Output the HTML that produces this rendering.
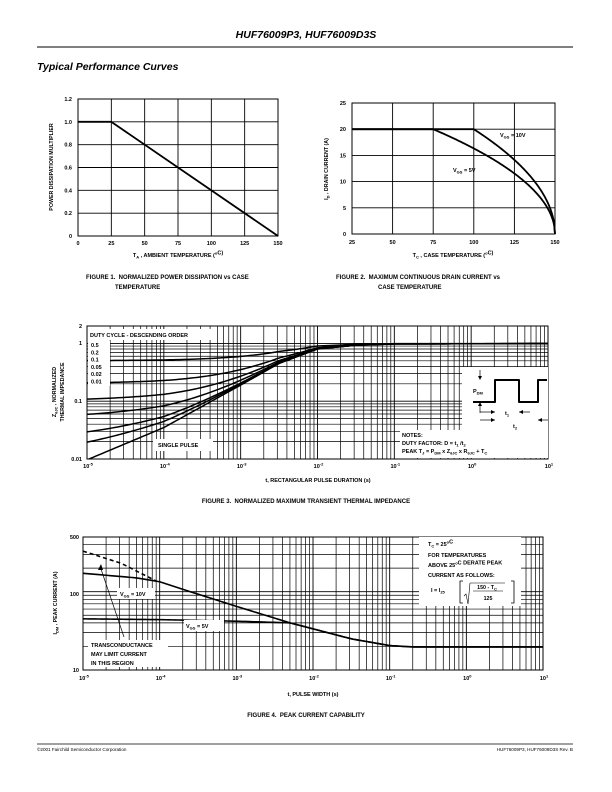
<!DOCTYPE html>
<html><head><meta charset="utf-8"><style>
body{margin:0;background:#fff}
svg{display:block;font-family:"Liberation Sans",Arial,sans-serif;font-weight:bold}
</style></head><body>
<svg id="s" width="612" height="792" viewBox="0 0 612 792" xmlns="http://www.w3.org/2000/svg"></svg>
<script>
var o='';
function L(x1,y1,x2,y2,w,extra){o+='<line x1="'+x1+'" y1="'+y1+'" x2="'+x2+'" y2="'+y2+'" stroke="#000" stroke-width="'+(w||0.8)+'" '+(extra||'')+'/>';}
function T(x,y,s,sz,a,extra){o+='<text x="'+x+'" y="'+y+'" font-size="'+(sz||5.5)+'" text-anchor="'+(a||'middle')+'" '+(extra||'')+'>'+s+'</text>';}
function R(x,y,w,h){o+='<rect x="'+x+'" y="'+y+'" width="'+w+'" height="'+h+'" fill="#fff"/>';}
function P(pts,w,extra){o+='<polyline fill="none" stroke="#000" stroke-width="'+w+'" stroke-linejoin="round" points="'+pts.map(function(p){return p[0].toFixed(2)+','+p[1].toFixed(2)}).join(' ')+'" '+(extra||'')+'/>';}
var sub=function(s){return '<tspan font-size="4" dy="1.5">'+s+'</tspan><tspan dy="-1.5"> </tspan>';};
var sup=function(s){return '<tspan font-size="4" dy="-2.5">'+s+'</tspan><tspan dy="2.5"></tspan>';};
// header
T(306,38,'HUF76009P3, HUF76009D3S',10.5,'middle','font-style="italic"');
L(37,47,573,47,1);
T(37,70,'Typical Performance Curves',10.5,'start','font-style="italic"');
// Fig1
(function(){var x0=78,x1=278,y0=99,y1=236;
for(var i=0;i<=6;i++){var x=x0+i*(x1-x0)/6;L(x,y0,x,y1,0.9);T(x,245,[0,25,50,75,100,125,150][i],5.5);}
for(var j=0;j<=6;j++){var y=y1-j*(y1-y0)/6;L(x0,y,x1,y,0.9);T(x0-6,y+2,['0','0.2','0.4','0.6','0.8','1.0','1.2'][j],5.5,'end');}
o+='<rect x="'+x0+'" y="'+y0+'" width="'+(x1-x0)+'" height="'+(y1-y0)+'" fill="none" stroke="#000" stroke-width="1"/>';
P([[x0,y1-5*(y1-y0)/6],[x0+(x1-x0)/6,y1-5*(y1-y0)/6],[x1,y1]],1.8);
T(178,257,'T'+sub('A')+', AMBIENT TEMPERATURE ('+sup('o')+'C)',5.5);
T(53,167,'POWER DISSIPATION MULTIPLIER',5.3,'middle','transform="rotate(-90 53 167)"');
T(86,279,'FIGURE 1.&#160;&#160;NORMALIZED POWER DISSIPATION vs CASE',6,'start');
T(115,289,'TEMPERATURE',6,'start');
})();
// Fig2
(function(){var x0=352,x1=555,y0=103,y1=234;
function X(t){return x0+(t-25)/125*(x1-x0);}function Y(v){return y1-v/25*(y1-y0);}
for(var i=0;i<=5;i++){var x=x0+i*(x1-x0)/5;L(x,y0,x,y1,0.9);T(x,244,25+25*i,5.5);}
for(var j=0;j<=5;j++){var y=y1-j*(y1-y0)/5;L(x0,y,x1,y,0.9);T(x0-6,y+2,5*j,5.5,'end');}
o+='<rect x="'+x0+'" y="'+y0+'" width="'+(x1-x0)+'" height="'+(y1-y0)+'" fill="none" stroke="#000" stroke-width="1"/>';
var a=[[X(25),Y(20)]],b=[[X(25),Y(20)]];
for(var t=75;t<=150;t+=0.5){b.push([X(t),Y(t<75?20:20*Math.sqrt((150-t)/75))]);}
for(var t=100;t<=150;t+=0.5){a.push([X(t),Y(20*Math.sqrt((150-t)/50))]);}
P(a,1.8);P(b,1.8);
T(500,137,'V'+sub('GS')+' = 10V',5.5,'start');
T(453,172,'V'+sub('GS')+' = 5V',5.5,'start');
T(453,257,'T'+sub('C')+', CASE TEMPERATURE ('+sup('o')+'C)',5.5);
T(328,169,'I'+sub('D')+', DRAIN CURRENT (A)',5.3,'middle','transform="rotate(-90 328 169)"');
T(336,279,'FIGURE 2.&#160;&#160;MAXIMUM CONTINUOUS DRAIN CURRENT vs',6,'start');
T(378,289,'CASE TEMPERATURE',6,'start');
})();
function lerpLog(pts,t){var lt=Math.log10(t);if(lt<=pts[0][0])return pts[0][1];for(var i=1;i<pts.length;i++){if(lt<=pts[i][0]){var f=(lt-pts[i-1][0])/(pts[i][0]-pts[i-1][0]);return Math.pow(10,Math.log10(pts[i-1][1])+f*(Math.log10(pts[i][1])-Math.log10(pts[i-1][1])));}}return pts[pts.length-1][1];}
// Fig3
(function(){var x0=87,x1=548,y0=326,y1=459;
function X(t){return x0+(Math.log10(t)+5)*76.83;}function Y(v){return 343.4-Math.log10(v)*57.8;}
o+='<defs><clipPath id="c3"><rect x="'+x0+'" y="'+y0+'" width="'+(x1-x0)+'" height="'+(y1-y0)+'"/></clipPath><clipPath id="c4"><rect x="83" y="537" width="460" height="133"/></clipPath></defs>';
for(var d=-5;d<1;d++)for(var m=1;m<10;m++){var x=X(m*Math.pow(10,d));L(x,y0,x,y1,m==1?0.9:0.7);}
for(var d=-2;d<1;d++)for(var m=1;m<10;m++){var v=m*Math.pow(10,d);if(v>2)break;var y=Y(v);L(x0,y,x1,y,m==1?0.9:0.7);}
o+='<rect x="'+x0+'" y="'+y0+'" width="'+(x1-x0)+'" height="'+(y1-y0)+'" fill="none" stroke="#000" stroke-width="1"/>';
var zs=[[-5.1,0.0085],[-4,0.035],[-3,0.19],[-2.5,0.45],[-2,0.8],[-1.5,0.93],[-1,0.98],[1,0.99]];
var D=[0.5,0.2,0.1,0.05,0.02,0.01,0];
D.forEach(function(dd){var pts=[];for(var lt=-5;lt<=1.001;lt+=0.04){var t=Math.pow(10,lt);var z=lerpLog(zs,t);pts.push([X(t),Y(dd+(1-dd)*z)]);}P(pts,1.5,'clip-path="url(#c3)"');});
// labels
R(88,329,127,11);T(90,337,'DUTY CYCLE - DESCENDING ORDER',5.5,'start');
R(88,341,22,45);
['0.5','0.2','0.1','0.05','0.02','0.01'].forEach(function(s,i){T(91,347+i*7.3,s,5.5,'start');});
R(153,439,60,12);T(158,447,'SINGLE PULSE',5.5,'start');
R(400,430,148,28);
T(402,437,'NOTES:',5.5,'start');T(402,445,'DUTY FACTOR: D = t'+sub('1')+'/t'+sub('2'),5.5,'start');
T(402,453,'PEAK T'+sub('J')+' = P'+sub('DM')+' x Z'+sub('θJC')+' x R'+sub('θJC')+' + T'+sub('C'),5.5,'start');
R(462,367,86,63);
P([[473,402],[495,402],[495,380],[519,380],[519,402],[538,402],[538,380],[547,380]],2);
L(480,370,480,378,0.7);L(480,404,480,413,0.7);
o+='<polygon points="478,376 482,376 480,380" fill="#000"/><polygon points="478,406 482,406 480,402" fill="#000"/>';
T(473,393,'P'+sub('DM'),5.5,'start');
L(480,412,495,412,0.7);L(519,412,530,412,0.7);L(480,420,495,420,0.7);L(538,420,548,420,0.7);
o+='<polygon points="491,410 495,412 491,414" fill="#000"/><polygon points="523,410 519,412 523,414" fill="#000"/><polygon points="491,418 495,420 491,422" fill="#000"/><polygon points="542,418 538,420 542,422" fill="#000"/>';
T(505,415,'t'+sub('1'),5.5,'start');T(513,428,'t'+sub('2'),5.5,'start');
for(var d=-5;d<=1;d++)T(X(Math.pow(10,d))+1,468,'10'+sup(d),5.5);
T(x0-5,328,'2',5.5,'end');T(x0-5,345,'1',5.5,'end');T(x0-5,403,'0.1',5.5,'end');T(x0-5,461,'0.01',5.5,'end');
T(318,482,'t, RECTANGULAR PULSE DURATION (s)',5.5);
T(56,392,'Z'+sub('θJC')+', NORMALIZED',5.3,'middle','transform="rotate(-90 56 392)"');
T(64,392,'THERMAL IMPEDANCE',5.3,'middle','transform="rotate(-90 64 392)"');
T(306,503,'FIGURE 3.&#160;&#160;NORMALIZED MAXIMUM TRANSIENT THERMAL IMPEDANCE',6);
})();
// Fig4
(function(){var x0=83,x1=543,y0=537,y1=670;
function X(t){return x0+(Math.log10(t)+5)*76.67;}function Y(v){return y1-(Math.log10(v)-1)*78.3;}
for(var d=-5;d<1;d++)for(var m=1;m<10;m++){var x=X(m*Math.pow(10,d));L(x,y0,x,y1,m==1?0.9:0.7);}
for(var d=1;d<3;d++)for(var m=1;m<10;m++){var v=m*Math.pow(10,d);if(v>500)break;var y=Y(v);L(x0,y,x1,y,m==1?0.9:0.7);}
o+='<rect x="'+x0+'" y="'+y0+'" width="'+(x1-x0)+'" height="'+(y1-y0)+'" fill="none" stroke="#000" stroke-width="1"/>';
var c10=[[-5,172],[-4.3,150],[-4,134],[-3.6,100],[-3,65],[-2.3,40],[-1.5,25],[-1,20.5],[-0.7,19.7],[1,19.7]];
var c5=[[-5,45],[-4,44],[-3,42],[-2.3,40],[-1.5,25],[-1,20.5],[-0.7,19.7],[1,19.7]];
var dsh=[[-5,330],[-4.5,230],[-4,130]];
[c10,c5].forEach(function(c){var pts=[];for(var lt=-5;lt<=1.001;lt+=0.04){var t=Math.pow(10,lt);pts.push([X(t),Y(lerpLog(c,t))]);}P(pts,1.6,'clip-path="url(#c4)"');});
var pts=[];for(var lt=-5;lt<=-4;lt+=0.04){var t=Math.pow(10,lt);pts.push([X(t),Y(lerpLog(dsh,t))]);}P(pts,1.6,'stroke-dasharray="4,3"');
R(117,588,38,11);T(120,596,'V'+sub('GS')+' = 10V',5.5,'start');
R(184,620,40,11);T(186,628,'V'+sub('GS')+' = 5V',5.5,'start');
L(124,637,101,569,0.7);o+='<polygon points="98,570 101,564 103,570" fill="#000"/>';
R(88,640,80,27);T(91,647,'TRANSCONDUCTANCE',5.5,'start');T(91,656,'MAY LIMIT CURRENT',5.5,'start');T(91,665,'IN THIS REGION',5.5,'start');
R(419,537,102,69);
T(428,546,'T'+sub('C')+' = 25'+sup('o')+'C',5.5,'start');
T(428,557,'FOR TEMPERATURES',5.5,'start');
T(428,567,'ABOVE 25'+sup('o')+'C DERATE PEAK',5.5,'start');
T(428,577,'CURRENT AS FOLLOWS:',5.5,'start');
T(431,592,'I = I'+sub('25'),5.5,'start');
P([[463,581],[460,581],[460,603],[463,603]],0.8);P([[511,581],[514,581],[514,603],[511,603]],0.8);
P([[464,596],[466,594],[468,604],[470,583],[505,583]],0.6);
L(473,591,503,591,0.6);
T(487,589,'150 - T'+sub('C'),5.3);T(488,600,'125',5.3);
for(var d=-5;d<=1;d++)T(X(Math.pow(10,d))+1,680,'10'+sup(d),5.5);
T(x0-4,539,'500',5.5,'end');T(x0-4,596,'100',5.5,'end');T(x0-4,672,'10',5.5,'end');
T(313,696,'t, PULSE WIDTH (s)',5.5);
T(57,603,'I'+sub('DM')+', PEAK CURRENT (A)',5.3,'middle','transform="rotate(-90 57 603)"');
T(306,717,'FIGURE 4.&#160;&#160;PEAK CURRENT CAPABILITY',6);
})();
L(37,744,573,744,0.8);
o+='<text x="37" y="751" font-size="4.6" font-weight="normal">©2001 Fairchild Semiconductor Corporation</text>';
o+='<text x="573" y="751" font-size="4.6" font-weight="normal" text-anchor="end">HUF76009P3, HUF76009D3S Rev. B</text>';
document.getElementById('s').innerHTML=o;
</script>
</body></html>
